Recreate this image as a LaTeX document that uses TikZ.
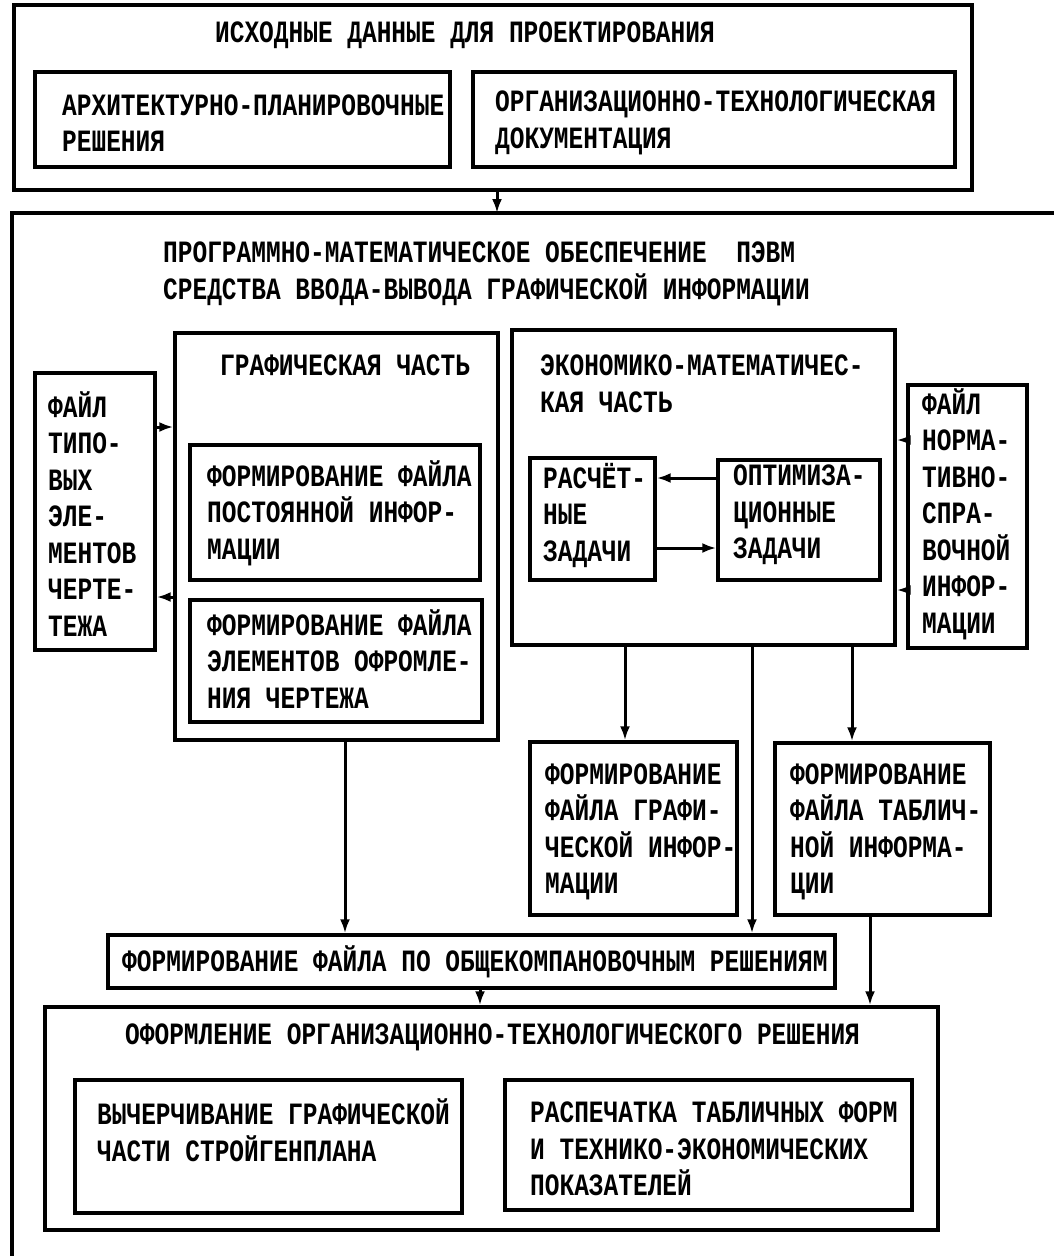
\documentclass[tikz,border=0pt]{standalone}
\usepackage{fontspec}
\usetikzlibrary{arrows.meta,fit}
\newfontfamily\dfont{Liberation Mono}[FakeStretch=0.79]
\begin{document}
\begin{tikzpicture}[x=1pt,y=-1pt,
  bx/.style={draw, line width=3.4pt, inner sep=0pt},
  lbl/.style={align=left, inner sep=0pt, font=\dfont\bfseries\fontsize{31}{36.5}\selectfont},
  arr/.style={line width=3pt, -{Latex[length=14pt,width=10pt]}},
  frm/.style={line width=3.4pt}]
\useasboundingbox (0,0) rectangle (1054,1256);

% source data block
\node[bx, fit={(14,5) (972,190)}] (src) {};
\node[lbl] (srcT) at (465,35) {ИСХОДНЫЕ ДАННЫЕ ДЛЯ ПРОЕКТИРОВАНИЯ};
\node[bx, fit={(35,72) (450,167)}] (arch) {};
\node[lbl, anchor=west] (archT) at (62,123) {АРХИТЕКТУРНО-ПЛАНИРОВОЧНЫЕ\\РЕШЕНИЯ};
\node[bx, fit={(473,72) (955,167)}] (org) {};
\node[lbl, anchor=west] (orgT) at (495,123) {ОРГАНИЗАЦИОННО-ТЕХНОЛОГИЧЕСКАЯ\\ДОКУМЕНТАЦИЯ};

% software frame (open on the right and below)
\coordinate (frmBL) at (12,1262);
\coordinate (frmTR) at (1060,213);
\coordinate (frmtop) at (497,213);
\draw[frm] (frmBL) |- (frmTR);
\node[lbl, anchor=west] (pmoT) at (163,274)
  {ПРОГРАММНО-МАТЕМАТИЧЕСКОЕ ОБЕСПЕЧЕНИЕ\ \ ПЭВМ\\СРЕДСТВА ВВОДА-ВЫВОДА ГРАФИЧЕСКОЙ ИНФОРМАЦИИ};

% graphic part
\node[bx, fit={(35,373) (155,650)}] (fte) {};
\node[lbl, anchor=west] (fteT) at (48,514) {ФАЙЛ\\ТИПО-\\ВЫХ\\ЭЛЕ-\\МЕНТОВ\\ЧЕРТЕ-\\ТЕЖА};
\node[bx, fit={(175,333) (498,740)}] (gp) {};
\node[lbl, anchor=west] (gpT) at (220,365) {ГРАФИЧЕСКАЯ ЧАСТЬ};
\node[bx, fit={(190,445) (480,580)}] (fpi) {};
\node[lbl, anchor=west] (fpiT) at (207,513) {ФОРМИРОВАНИЕ ФАЙЛА\\ПОСТОЯННОЙ ИНФОР-\\МАЦИИ};
\node[bx, fit={(190,600) (482,722)}] (feo) {};
\node[lbl, anchor=west] (feoT) at (207,659) {ФОРМИРОВАНИЕ ФАЙЛА\\ЭЛЕМЕНТОВ ОФРОМЛЕ-\\НИЯ ЧЕРТЕЖА};

% economic-mathematical part
\node[bx, fit={(512,330) (895,645)}] (em) {};
\node[lbl, anchor=west] (emT) at (540,384) {ЭКОНОМИКО-МАТЕМАТИЧЕС-\\КАЯ ЧАСТЬ};
\node[bx, fit={(530,458) (655,580)}] (rasch) {};
\node[lbl, anchor=west] (raschT) at (543,515) {РАСЧЁТ-\\НЫЕ\\ЗАДАЧИ};
\node[bx, fit={(718,460) (880,580)}] (opt) {};
\node[lbl, anchor=west] (optT) at (733,515) {ОПТИМИЗА-\\ЦИОННЫЕ\\ЗАДАЧИ};
\node[bx, fit={(908,385) (1027,648)}] (fnorm) {};
\node[lbl, anchor=west] (fnormT) at (922,514) {ФАЙЛ\\НОРМА-\\ТИВНО-\\СПРА-\\ВОЧНОЙ\\ИНФОР-\\МАЦИИ};

% output files
\node[bx, fit={(530,742) (737,915)}] (ginfo) {};
\node[lbl, anchor=west] (ginfoT) at (545,832) {ФОРМИРОВАНИЕ\\ФАЙЛА ГРАФИ-\\ЧЕСКОЙ ИНФОР-\\МАЦИИ};
\node[bx, fit={(775,743) (990,915)}] (tinfo) {};
\node[lbl, anchor=west] (tinfoT) at (790,832) {ФОРМИРОВАНИЕ\\ФАЙЛА ТАБЛИЧ-\\НОЙ ИНФОРМА-\\ЦИИ};
\node[bx, fit={(108,935) (835,988)}] (obsh) {};
\node[lbl, anchor=west] (obshT) at (122,962) {ФОРМИРОВАНИЕ ФАЙЛА ПО ОБЩЕКОМПАНОВОЧНЫМ РЕШЕНИЯМ};

% final documentation
\node[bx, fit={(45,1007) (938,1230)}] (ofo) {};
\node[lbl, anchor=west] (ofoT) at (125,1037) {ОФОРМЛЕНИЕ ОРГАНИЗАЦИОННО-ТЕХНОЛОГИЧЕСКОГО РЕШЕНИЯ};
\node[bx, fit={(75,1080) (462,1213)}] (vych) {};
\node[lbl, anchor=west] (vychT) at (97,1130) {ВЫЧЕРЧИВАНИЕ ГРАФИЧЕСКОЙ\\ЧАСТИ СТРОЙГЕНПЛАНА};
\node[bx, fit={(505,1080) (912,1210)}] (rasp) {};
\node[lbl, anchor=west] (raspT) at (530,1149) {РАСПЕЧАТКА ТАБЛИЧНЫХ ФОРМ\\И ТЕХНИКО-ЭКОНОМИЧЕСКИХ\\ПОКАЗАТЕЛЕЙ};

% connector levels
\coordinate (yA) at (0,427);
\coordinate (yB) at (0,597);
\coordinate (yC) at (0,440);
\coordinate (yD) at (0,590);
\coordinate (yE) at (0,478);
\coordinate (yF) at (0,548);
\coordinate (xA) at (625,0);
\coordinate (xB) at (752,0);
\coordinate (xC) at (852,0);
\coordinate (xD) at (345,0);
\coordinate (xE) at (480,0);
\coordinate (xF) at (870,0);

% connectors
\draw[arr] (src.south -| frmtop) -- (frmtop);
\draw[arr] (fte.east |- yA) -- (gp.west |- yA);
\draw[arr] (gp.west |- yB) -- (fte.east |- yB);
\draw[arr] (fnorm.west |- yC) -- (em.east |- yC);
\draw[arr] (fnorm.west |- yD) -- (em.east |- yD);
\draw[arr] (opt.west |- yE) -- (rasch.east |- yE);
\draw[arr] (rasch.east |- yF) -- (opt.west |- yF);
\draw[arr] (em.south -| xA) -- (ginfo.north -| xA);
\draw[arr] (em.south -| xB) -- (obsh.north -| xB);
\draw[arr] (em.south -| xC) -- (tinfo.north -| xC);
\draw[arr] (gp.south -| xD) -- (obsh.north -| xD);
\draw[arr] (obsh.south -| xE) -- (ofo.north -| xE);
\draw[arr] (tinfo.south -| xF) -- (ofo.north -| xF);
\end{tikzpicture}
\end{document}
